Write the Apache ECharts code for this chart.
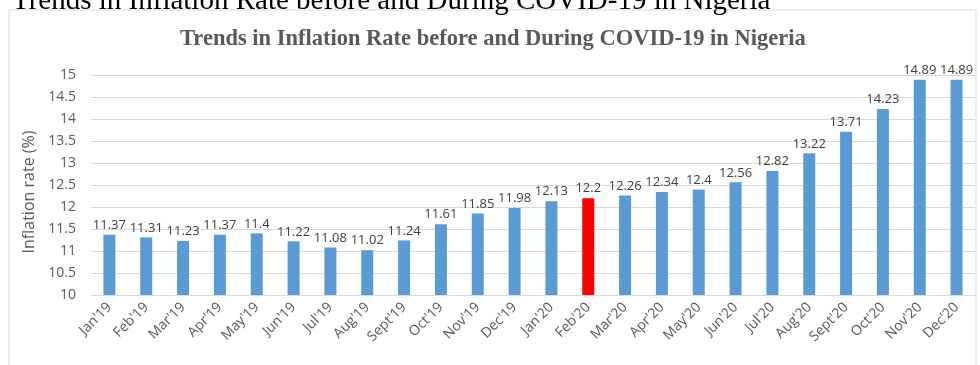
<!DOCTYPE html>
<html>
<head>
<meta charset="utf-8">
<script src="https://cdn.jsdelivr.net/npm/echarts@6/dist/echarts.min.js"></script>
<style>
  html, body { margin: 0; padding: 0; background: #ffffff; }
  #chart { width: 980px; height: 365px; }
</style>
</head>
<body>
<div id="chart"></div>
<script>
// Monthly headline inflation, Jan 2019 – Dec 2020
const months = ["Jan'19", "Feb'19", "Mar'19", "Apr'19", "May'19", "Jun'19", "Jul'19", "Aug'19",
  "Sept'19", "Oct'19", "Nov'19", "Dec'19", "Jan'20", "Feb'20", "Mar'20", "Apr'20", "May'20",
  "Jun'20", "Jul'20", "Aug'20", "Sept'20", "Oct'20", "Nov'20", "Dec'20"];
const inflationRate = [11.37, 11.31, 11.23, 11.37, 11.4, 11.22, 11.08, 11.02, 11.24, 11.61, 11.85, 11.98,
  12.13, 12.2, 12.26, 12.34, 12.4, 12.56, 12.82, 13.22, 13.71, 14.23, 14.89, 14.89];
// Month marking the onset of COVID-19, drawn in red
const highlightMonth = "Feb'20";

const yTicks = { min: 10, max: 15, step: 0.5 };

const captionText = 'Trends in Inflation Rate before and During COVID-19 in Nigeria';
const chartTitle = 'Trends in Inflation Rate before and During COVID-19 in Nigeria';
const yAxisName = 'Inflation rate (%)';

const barBlue = '#5B9BD5';
const barRed = '#FF0000';

const chart = echarts.init(document.getElementById('chart'), null, { renderer: 'canvas' });

chart.setOption({
  animation: false,
  backgroundColor: '#ffffff',
  graphic: [
    {
      type: 'text',
      left: 12,
      top: -13,
      style: {
        text: captionText,
        font: '29px "Liberation Serif", serif',
        fill: '#000000'
      },
      z: 10
    },
    {
      type: 'rect',
      shape: { x: 9, y: 10, width: 967, height: 400 },
      style: { fill: 'none', stroke: '#d9d9d9', lineWidth: 1 },
      z: 0,
      silent: true
    }
  ],
  title: {
    text: chartTitle,
    left: 180,
    top: 28,
    padding: 0,
    textStyle: {
      fontFamily: '"Liberation Serif", serif',
      fontWeight: 'bold',
      fontSize: 22.5,
      color: '#595959'
    }
  },
  grid: { left: 91, right: 5, top: 75, bottom: 70 },
  xAxis: {
    type: 'category',
    data: months,
    axisLine: { show: true, lineStyle: { color: '#d9d9d9' } },
    axisTick: { show: false },
    axisLabel: {
      rotate: 45,
      margin: 10,
      interval: 0,
      fontFamily: '"Open Sans", sans-serif',
      fontSize: 14,
      color: '#595959'
    }
  },
  yAxis: {
    type: 'value',
    min: yTicks.min,
    max: yTicks.max,
    interval: yTicks.step,
    name: yAxisName,
    nameLocation: 'middle',
    nameGap: 53,
    nameTextStyle: {
      fontFamily: '"Open Sans", sans-serif',
      fontSize: 16,
      color: '#595959',
      padding: [0, 14, 0, 0]
    },
    axisLine: { show: false },
    axisTick: { show: false },
    splitLine: { lineStyle: { color: '#d9d9d9' } },
    axisLabel: {
      margin: 15,
      fontFamily: '"Open Sans", sans-serif',
      fontSize: 14,
      color: '#595959'
    }
  },
  series: [{
    type: 'bar',
    barWidth: 12,
    data: inflationRate.map((v, i) => ({
      value: v,
      itemStyle: { color: months[i] === highlightMonth ? barRed : barBlue }
    })),
    label: {
      show: true,
      position: 'top',
      distance: 3,
      fontFamily: '"Open Sans", sans-serif',
      fontSize: 13,
      color: '#404040'
    }
  }]
});
</script>
</body>
</html>
